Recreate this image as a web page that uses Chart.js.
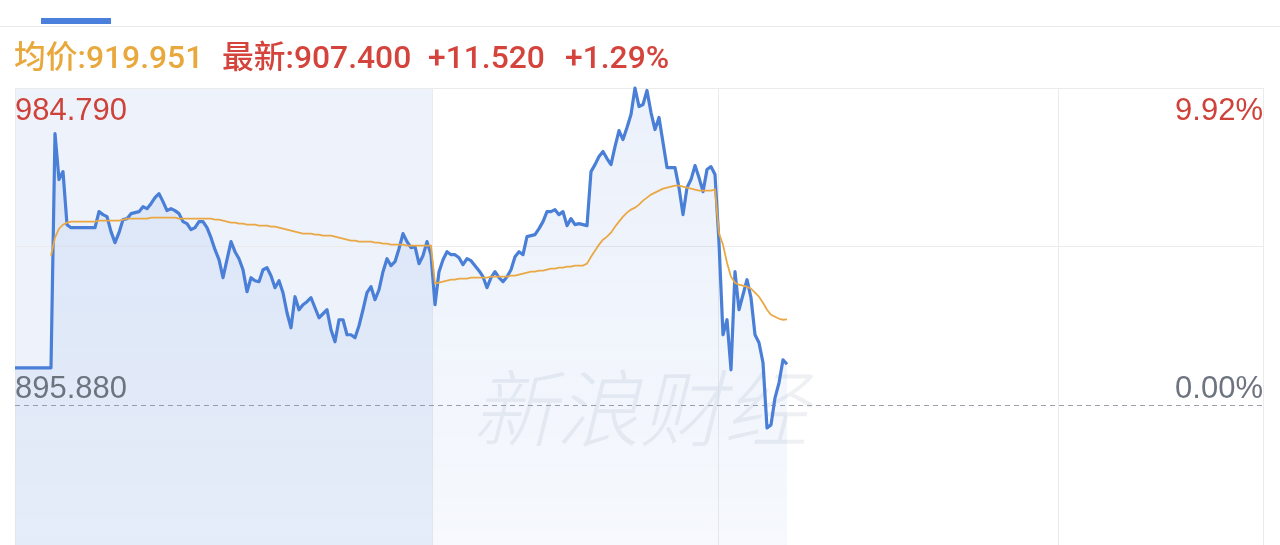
<!DOCTYPE html>
<html>
<head>
<meta charset="utf-8">
<script src="https://cdn.jsdelivr.net/npm/chart.js@4.4.0/dist/chart.umd.min.js"></script>
<style>
  html, body { margin: 0; padding: 0; background: #fff; overflow: hidden; }
  body { width: 1280px; height: 545px; position: relative; font-family: "Liberation Sans", Arial, "Noto Sans CJK SC", sans-serif; }
  .tab-line { position: absolute; left: 0; top: 26px; width: 1280px; height: 1px; background: #e9e9e9; }
  .tab-active { position: absolute; left: 41px; top: 18px; width: 70px; height: 6px; background: #4a7fdc; }
  .quote span { position: absolute; top: 40px; line-height: 34px; font-size: 31.8px; font-weight: 500; white-space: nowrap; z-index: 2;
    font-family: Roboto, "Noto Sans CJK SC", sans-serif; }
  #wrap { position: absolute; left: 0; top: 0; width: 1280px; height: 545px; }
</style>
</head>
<body>
<div class="tab-line"></div>
<div class="tab-active"></div>
<div class="quote">
  <span style="left:14px;color:#e8a83c">均价:919.951</span>
  <span style="left:222px;color:#d4443c">最新:907.400</span>
  <span style="left:428px;color:#d4443c">+11.520</span>
  <span style="left:565px;color:#d4443c">+1.29%</span>
</div>
<div id="wrap"><canvas id="fenshi" width="1280" height="545"></canvas></div>
<script>
// minute slots (x = slot index)
const slotCount = 312;
const sessionBreaks = [104.25, 175.75, 260.75];
const prevClose = 895.88;
const dayHigh = 984.79;
const axisBottom = 856.75;
const leftLabels = ['984.790', '895.880'];
const rightLabels = ['9.92%', '0.00%'];

const prices = [
  906.40, 906.40, 906.40, 906.40, 906.40, 906.40, 906.40, 906.40, 906.40, 906.40,
  972.03, 959.13, 961.37, 946.50, 945.66, 945.66, 945.66, 945.66, 945.66, 945.66,
  945.66, 950.15, 949.31, 948.75, 944.54, 941.46, 944.26, 947.91, 948.19, 949.59,
  949.87, 950.15, 951.55, 950.99, 952.39, 954.08, 955.20, 952.96, 950.43, 950.99,
  950.43, 949.59, 947.35, 946.79, 945.10, 945.66, 947.35, 947.35, 945.66, 942.86,
  939.49, 936.69, 931.64, 936.69, 941.74, 938.93, 936.97, 933.88, 927.71, 931.64,
  930.80, 930.52, 933.88, 934.44, 932.20, 928.84, 930.80, 927.43, 921.82, 917.62,
  926.31, 922.66, 924.07, 924.91, 926.03, 923.23, 920.42, 921.54, 922.66, 917.06,
  913.69, 919.86, 919.86, 915.65, 915.65, 914.81, 918.18, 922.66, 927.43, 929.12,
  925.47, 928.27, 933.32, 936.97, 935.01, 936.13, 939.77, 943.98, 941.74, 940.05,
  940.33, 935.57, 937.81, 941.74, 938.09, 924.07, 933.32, 936.69, 938.93, 938.09,
  938.09, 937.25, 935.29, 936.97, 936.41, 935.01, 933.60, 931.92, 928.84, 931.64,
  933.32, 931.64, 930.52, 931.92, 933.88, 937.53, 938.93, 938.09, 943.14, 943.42,
  943.70, 945.38, 947.35, 950.15, 950.15, 950.71, 949.31, 950.15, 946.22, 948.19,
  946.50, 946.79, 946.50, 946.22, 961.37, 963.33, 965.58, 966.98, 965.02, 963.33,
  968.38, 972.87, 970.34, 973.71, 977.36, 984.79, 979.60, 980.16, 984.09, 977.92,
  973.15, 976.52, 969.50, 962.49, 962.49, 962.49, 956.88, 949.31, 956.88, 959.13,
  963.05, 959.69, 955.76, 961.93, 962.77, 960.53, 941.46, 915.65, 919.86, 905.84,
  933.32, 922.66, 926.87, 931.08, 926.03, 915.65, 913.41, 907.80, 889.57, 890.41,
  897.98, 902.19, 908.64, 907.40
];

const avgPrices = [
  null, null, null, null, null, null, null, null, null, 937.81,
  942.86, 945.38, 946.50, 947.07, 947.35, 947.35, 947.35, 947.35, 947.35, 947.35,
  947.35, 947.63, 947.63, 947.63, 947.63, 947.63, 947.63, 947.91, 948.19, 948.19,
  948.19, 948.19, 948.19, 948.19, 948.47, 948.47, 948.47, 948.47, 948.47, 948.47,
  948.47, 948.19, 948.19, 948.19, 948.19, 948.19, 948.19, 948.19, 948.19, 948.19,
  947.91, 947.91, 947.63, 947.35, 947.07, 947.07, 946.79, 946.79, 946.50, 946.50,
  946.50, 946.22, 946.22, 946.22, 945.94, 945.94, 945.66, 945.38, 945.10, 944.82,
  944.54, 944.26, 943.98, 943.98, 943.98, 943.70, 943.70, 943.42, 943.42, 943.42,
  943.14, 942.86, 942.58, 942.30, 942.02, 942.02, 941.74, 941.74, 941.74, 941.74,
  941.46, 941.46, 941.18, 941.18, 940.90, 940.90, 940.90, 940.90, 940.62, 940.62,
  940.62, 940.62, 940.62, 940.62, 940.62, 929.96, 930.24, 930.52, 930.80, 931.08,
  931.08, 931.36, 931.36, 931.36, 931.64, 931.64, 931.64, 931.64, 931.64, 931.92,
  931.92, 931.92, 931.92, 931.92, 932.20, 932.20, 932.48, 932.76, 933.04, 933.32,
  933.32, 933.60, 933.60, 933.88, 934.16, 934.16, 934.44, 934.44, 934.73, 934.73,
  935.01, 935.01, 935.01, 935.57, 937.53, 939.21, 940.90, 942.30, 943.14, 944.26,
  945.94, 947.35, 948.75, 949.87, 950.71, 951.27, 952.11, 953.24, 954.08, 954.92,
  955.48, 956.04, 956.60, 956.88, 957.16, 957.44, 957.44, 957.16, 956.88, 956.60,
  956.32, 956.04, 956.04, 956.04, 956.04, 956.32, 943.98, 940.90, 935.85, 931.92,
  930.24, 929.68, 929.40, 929.12, 928.56, 927.43, 926.31, 924.63, 922.66, 921.26,
  920.70, 920.14, 919.86, 919.95
];

// shaded night session, watermark, prev-close dashed line
const backdrop = {
  id: 'backdrop',
  beforeDraw(chart) {
    const { ctx, chartArea, scales } = chart;
    const x1 = scales.x.getPixelForValue(sessionBreaks[0]);
    ctx.save();
    ctx.fillStyle = 'rgba(74,127,216,0.10)';
    ctx.fillRect(chartArea.left, chartArea.top, x1 - chartArea.left, chartArea.bottom - chartArea.top);
    ctx.restore();
  },
  beforeDatasetsDraw(chart) {
    const { ctx, chartArea, scales } = chart;
    ctx.save();
    ctx.font = 'italic 300 84px "Noto Sans CJK SC", sans-serif';
    ctx.fillStyle = 'rgba(214,219,226,0.42)';
    ctx.textAlign = 'center';
    ctx.textBaseline = 'middle';
    ctx.fillText('新浪财经', 640, 408);

    const y = Math.round(scales.y.getPixelForValue(prevClose)) + 0.5;
    ctx.strokeStyle = '#9aa1ab';
    ctx.lineWidth = 1;
    ctx.setLineDash([5, 4]);
    ctx.beginPath();
    ctx.moveTo(chartArea.left, y);
    ctx.lineTo(chartArea.right, y);
    ctx.stroke();
    ctx.restore();
  },
  afterDraw(chart) {
    const { ctx, chartArea, scales } = chart;
    const yTop = scales.y.getPixelForValue(dayHigh);
    const yBase = scales.y.getPixelForValue(prevClose);
    ctx.save();
    ctx.font = '31px "Liberation Sans", Arial, sans-serif';
    ctx.textBaseline = 'alphabetic';
    ctx.fillStyle = '#cf4239';
    ctx.textAlign = 'left';
    ctx.fillText(leftLabels[0], chartArea.left, yTop + 32);
    ctx.textAlign = 'right';
    ctx.fillText(rightLabels[0], chartArea.right, yTop + 32);
    ctx.fillStyle = '#6d7480';
    ctx.textAlign = 'left';
    ctx.fillText(leftLabels[1], chartArea.left, yBase - 7);
    ctx.textAlign = 'right';
    ctx.fillText(rightLabels[1], chartArea.right, yBase - 7);
    ctx.restore();
  }
};

const ctx = document.getElementById('fenshi').getContext('2d');
const fenshiChart = new Chart(ctx, {
  type: 'line',
  data: {
    datasets: [{
      label: '均价',
      data: avgPrices.map((v, i) => ({ x: i, y: v })),
      borderColor: '#eaa844',
      borderWidth: 1.8,
      pointRadius: 0,
      fill: false,
      spanGaps: false,
      tension: 0
    }, {
      label: '价格',
      data: prices.map((v, i) => ({ x: i, y: v })),
      borderColor: '#4a7fd8',
      borderWidth: 3.2,
      borderJoinStyle: 'round',
      pointRadius: 0,
      tension: 0,
      clip: 4,
      fill: 'start',
      backgroundColor: (c) => {
        const area = c.chart.chartArea;
        if (!area) return 'rgba(74,127,216,0.08)';
        const g = c.chart.ctx.createLinearGradient(0, area.top, 0, area.bottom);
        g.addColorStop(0, 'rgba(74,127,216,0.11)');
        g.addColorStop(1, 'rgba(74,127,216,0.05)');
        return g;
      }
    }]
  },
  options: {
    responsive: false,
    animation: false,
    devicePixelRatio: 1,
    layout: {
      padding: { top: 88, left: 15, right: 17, bottom: 0 }
    },
    plugins: {
      legend: { display: false },
      tooltip: { enabled: false }
    },
    scales: {
      x: {
        type: 'linear',
        min: 0,
        max: slotCount,
        ticks: { display: false },
        border: { display: false },
        grid: { color: '#ebebeb', drawTicks: false },
        afterBuildTicks: (s) => {
          s.ticks = [0, ...sessionBreaks, slotCount].map(v => ({ value: v }));
        }
      },
      y: {
        min: axisBottom,
        max: dayHigh,
        ticks: { display: false },
        border: { display: false },
        grid: { color: '#ebebeb', drawTicks: false },
        afterBuildTicks: (s) => {
          s.ticks = [(prevClose + dayHigh) / 2, dayHigh].map(v => ({ value: v }));
        }
      }
    }
  },
  plugins: [backdrop]
});
</script>
</body>
</html>
